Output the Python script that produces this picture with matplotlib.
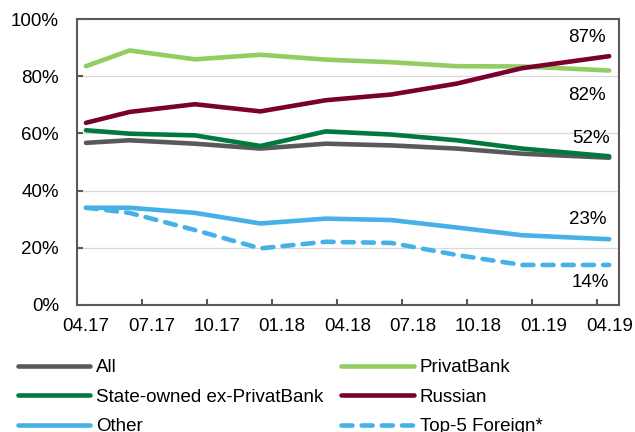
import numpy as np
import matplotlib
matplotlib.use("Agg")
import matplotlib.pyplot as plt

plt.rcParams['font.family'] = ['Liberation Sans', 'DejaVu Sans']
plt.rcParams['font.size'] = 13.5

# months since 04.17
meses = [0, 2, 5, 8, 11, 14, 17, 20, 24]
etiquetas_x = ["04.17", "07.17", "10.17", "01.18", "04.18", "07.18", "10.18", "01.19", "04.19"]

todos = [56.7, 57.6, 56.4, 54.7, 56.4, 55.8, 54.7, 52.9, 51.5]
privat = [83.5, 89.0, 85.9, 87.5, 85.8, 84.9, 83.5, 83.4, 82]
estatales = [61.1, 59.9, 59.3, 55.6, 60.7, 59.6, 57.6, 54.7, 52]
rusos = [63.7, 67.5, 70.2, 67.7, 71.6, 73.6, 77.4, 82.8, 87]
otros = [34.0, 34.0, 32.2, 28.5, 30.2, 29.7, 27.1, 24.4, 23]
top5 = [34.0, 32.2, 26.2, 19.8, 22.1, 21.7, 17.5, 14.0, 14]

fig = plt.figure(figsize=(6.35, 4.32), dpi=100)
ax = fig.add_axes([0.1213, 0.294, 0.8535, 0.662])

estilo = dict(linewidth=3.3, solid_capstyle='round', solid_joinstyle='round')
l_todos, = ax.plot(meses, todos, color='#595959', label='All', **estilo)
l_privat, = ax.plot(meses, privat, color='#92CC62', label='PrivatBank', **estilo)
l_estat, = ax.plot(meses, estatales, color='#00793D', label='State-owned ex-PrivatBank', **estilo)
l_rusos, = ax.plot(meses, rusos, color='#7A0030', label='Russian', **estilo)
l_otros, = ax.plot(meses, otros, color='#46B1E6', label='Other', **estilo)
l_top5, = ax.plot(meses, top5, color='#46B1E6', label='Top-5 Foreign*', linewidth=3.3,
                  linestyle=(0, (2.4, 2.0)), dash_capstyle='round', dash_joinstyle='round')

# etiquetas de valor al final de cada serie
for valor, y_txt, dx in [(rusos[-1], 93.5, 0), (privat[-1], 73.3, 0),
                         (estatales[-1], 58.3, 0.15), (otros[-1], 30.0, 0),
                         (top5[-1], 7.7, 0.15)]:
    ax.text(meses[-1] - 1.0 + dx, y_txt, f"{valor:.0f}%", ha='center', va='center', fontsize=13.5)

ax.set_xlim(-0.41, 24.45)
ax.set_ylim(0, 100)
ax.set_yticks(np.arange(0, 101, 20))
ax.set_yticklabels([f"{v}%" for v in range(0, 101, 20)])
ax.set_xticks(np.arange(0, 25, 3))
ax.set_xticklabels(etiquetas_x)
ax.set_xticks(np.arange(8) * 2.985 + 2.56, minor=True)

ax.tick_params(axis='x', which='major', length=0, pad=9.5)
ax.tick_params(axis='x', which='minor', length=4.5, width=1.5, direction='in', color='#595959')
ax.tick_params(axis='y', length=4, width=1.5, direction='in', color='#595959', pad=13)

ax.grid(axis='y', color='#D9D9D9', linewidth=0.9)
ax.set_axisbelow(True)
for lado in ax.spines.values():
    lado.set_color('#595959')
    lado.set_linewidth(1.5)

fig.legend(handles=[l_todos, l_estat, l_otros, l_privat, l_rusos, l_top5],
           ncol=2, loc='upper left', bbox_to_anchor=(0.028, 0.169), frameon=False,
           borderpad=0, borderaxespad=0, handlelength=3.85, handletextpad=0.32,
           columnspacing=0.96, labelspacing=0.67, fontsize=13.5)

fig.savefig('out.png', dpi=100)
